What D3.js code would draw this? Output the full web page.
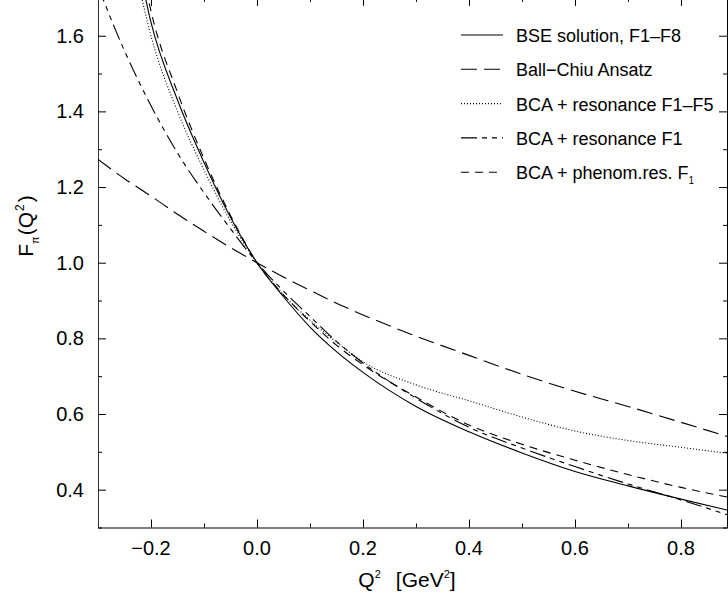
<!DOCTYPE html>
<html>
<head>
<meta charset="utf-8">
<script src="https://cdn.jsdelivr.net/npm/d3@7"></script>
<style>
  body { margin: 0; background: #fff; }
  text { font-family: "Liberation Sans", Arial, Helvetica, sans-serif; fill: #000; }
</style>
</head>
<body>
<div id="chart"></div>
<script>
// Q^2 grid shared by all curves [GeV^2]
var qGrid = [-0.3, -0.25, -0.2, -0.15, -0.1, -0.05, 0, 0.05, 0.1, 0.15, 0.2, 0.3, 0.4, 0.5, 0.6, 0.7, 0.8, 0.9];

// F_pi(Q^2) (null = far outside the frame)
var bseSolution   = [null, 2.00, 1.635, 1.43, 1.265, 1.12, 1.0, 0.91, 0.83, 0.765, 0.71, 0.62, 0.553, 0.497, 0.448, 0.41, 0.375, 0.342];
var ballChiu      = [1.273, 1.222, 1.176, 1.128, 1.083, 1.04, 1.0, 0.962, 0.927, 0.893, 0.862, 0.806, 0.755, 0.705, 0.66, 0.62, 0.578, 0.535];
var bcaResF1F5    = [null, 1.92, 1.60, 1.40, 1.245, 1.11, 1.0, 0.915, 0.848, 0.79, 0.738, 0.677, 0.635, 0.592, 0.555, 0.53, 0.512, 0.494];
var bcaResF1      = [1.73, 1.56, 1.415, 1.29, 1.185, 1.09, 1.0, 0.925, 0.858, 0.792, 0.735, 0.642, 0.565, 0.51, 0.461, 0.415, 0.373, 0.328];
var bcaPhenomRes  = [null, 2.05, 1.665, 1.45, 1.275, 1.125, 1.0, 0.915, 0.845, 0.782, 0.73, 0.645, 0.571, 0.52, 0.478, 0.44, 0.406, 0.377];

var seriesNames = ["BSE solution, F1\u2013F8", "Ball\u2212Chiu Ansatz", "BCA + resonance F1\u2013F5", "BCA + resonance F1", "BCA + phenom.res. F"];
var seriesValues = [bseSolution, ballChiu, bcaResF1F5, bcaResF1, bcaPhenomRes];
var seriesDash = ["none", "16,7", "1,2", "16,5,5,5,5,5", "8,6"];

var xTicks = [-0.2, 0.0, 0.2, 0.4, 0.6, 0.8];
var yTicks = [0.4, 0.6, 0.8, 1.0, 1.2, 1.4, 1.6];

var fullwidth = 728, fullheight = 602;

var svg = d3.select("#chart")
    .append("svg")
    .attr("width", fullwidth)
    .attr("height", fullheight);

// scales
var xScale = d3.scaleLinear().domain([-0.3, 0.9]).range([98, 734]);
var yScale = d3.scaleLinear().domain([0.3, 1.7]).range([527.5, -2.1]);

var x0 = xScale(-0.3), x1 = xScale(0.9), y0 = yScale(0.3), y1 = yScale(1.7);

// clip for the curves
svg.append("clipPath").attr("id", "plotclip")
  .append("rect")
    .attr("x", x0).attr("y", y1)
    .attr("width", x1 - x0).attr("height", y0 - y1);

// axes: ticks point inward on all four sides
var minorX = d3.range(-0.2, 0.95, 0.1);
var minorY = d3.range(0.3, 1.75, 0.1);

function isMajor(v) { return Math.abs(Math.round(v * 5) - v * 5) < 1e-6; }

svg.append("g")
    .attr("transform", "translate(0," + y0 + ")")
    .call(d3.axisBottom(xScale).tickValues(minorX).tickSize(0).tickFormat(""))
    .call(g => g.selectAll(".tick line").attr("y2", d => isMajor(d) ? -8 : -4).attr("stroke", "#000"))
    .call(g => g.select(".domain").attr("stroke", "#000"));

svg.append("g")
    .attr("transform", "translate(0," + y1 + ")")
    .call(d3.axisTop(xScale).tickValues(minorX).tickSize(0).tickFormat(""))
    .call(g => g.selectAll(".tick line").attr("y2", d => isMajor(d) ? 8 : 4).attr("stroke", "#000"))
    .call(g => g.select(".domain").attr("stroke", "#000"));

svg.append("g")
    .attr("transform", "translate(" + x0 + ",0)")
    .call(d3.axisLeft(yScale).tickValues(minorY).tickSize(0).tickFormat(""))
    .call(g => g.selectAll(".tick line").attr("x2", d => isMajor(d) ? 8 : 4).attr("stroke", "#000"))
    .call(g => g.select(".domain").attr("stroke", "#333"));

svg.append("g")
    .attr("transform", "translate(" + (x1 - 7) + ",0)")
    .call(d3.axisRight(yScale).tickValues(minorY).tickSize(0).tickFormat(""))
    .call(g => g.selectAll(".tick line").attr("x2", d => isMajor(d) ? -8 : -4).attr("stroke", "#000"))
    .call(g => g.select(".domain").attr("stroke", "#000"));

// tick labels
svg.append("g").selectAll("text")
    .data(xTicks)
    .enter()
    .append("text")
      .attr("x", d => xScale(d))
      .attr("y", 555)
      .attr("text-anchor", "middle")
      .style("font-size", "20px")
      .text(d => d3.format(".1f")(d).replace("-", "\u2212"));

svg.append("g").selectAll("text")
    .data(yTicks)
    .enter()
    .append("text")
      .attr("x", 84)
      .attr("y", d => yScale(d) + 7)
      .attr("text-anchor", "end")
      .style("font-size", "20px")
      .text(d => d3.format(".1f")(d));

// axis titles
var xlab = svg.append("text")
    .attr("x", 407)
    .attr("y", 587)
    .attr("text-anchor", "middle")
    .style("font-size", "21px");
xlab.append("tspan").text("Q");
xlab.append("tspan").attr("dy", -9).style("font-size", "11px").text("2");
xlab.append("tspan").attr("dy", 9).attr("dx", 15).text("[GeV");
xlab.append("tspan").attr("dy", -9).style("font-size", "11px").text("2");
xlab.append("tspan").attr("dy", 9).text("]");

var ylab = svg.append("text")
    .attr("transform", "translate(33,226) rotate(-90)")
    .attr("text-anchor", "middle")
    .style("font-size", "21px");
ylab.append("tspan").text("F");
ylab.append("tspan").attr("dy", 6).style("font-size", "11px").text("\u03c0");
ylab.append("tspan").attr("dy", -6).attr("dx", 1).text("(Q");
ylab.append("tspan").attr("dy", -9).attr("dx", 1).style("font-size", "12px").text("2");
ylab.append("tspan").attr("dy", 9).attr("dx", 2).text(")");

// curves
var line = d3.line()
    .defined(d => d[1] !== null)
    .x(d => xScale(d[0]))
    .y(d => yScale(d[1]))
    .curve(d3.curveMonotoneX);

var curves = svg.append("g").attr("clip-path", "url(#plotclip)");
for (var i = 0; i < seriesValues.length; i++) {
    var pts = qGrid.map((q, j) => [q, seriesValues[i][j]]);
    curves.append("path")
        .datum(pts)
        .attr("d", line)
        .attr("fill", "none")
        .attr("stroke", "#000")
        .attr("stroke-width", 1.1)
        .attr("stroke-dasharray", seriesDash[i]);
}

// legend
var legend = svg.append("g");
for (var k = 0; k < seriesNames.length; k++) {
    var ly = 35 + k * 34.3;
    legend.append("line")
        .attr("x1", 461).attr("x2", 503)
        .attr("y1", ly).attr("y2", ly)
        .attr("stroke", "#000")
        .attr("stroke-width", 1.1)
        .attr("stroke-dasharray", seriesDash[k]);
    var t = legend.append("text")
        .attr("x", 516)
        .attr("y", ly + 7)
        .style("font-size", "18px")
        .text(seriesNames[k]);
    if (k == 4) {
        t.append("tspan").attr("dy", 5).style("font-size", "10px").text("1");
    }
}
</script>
</body>
</html>
